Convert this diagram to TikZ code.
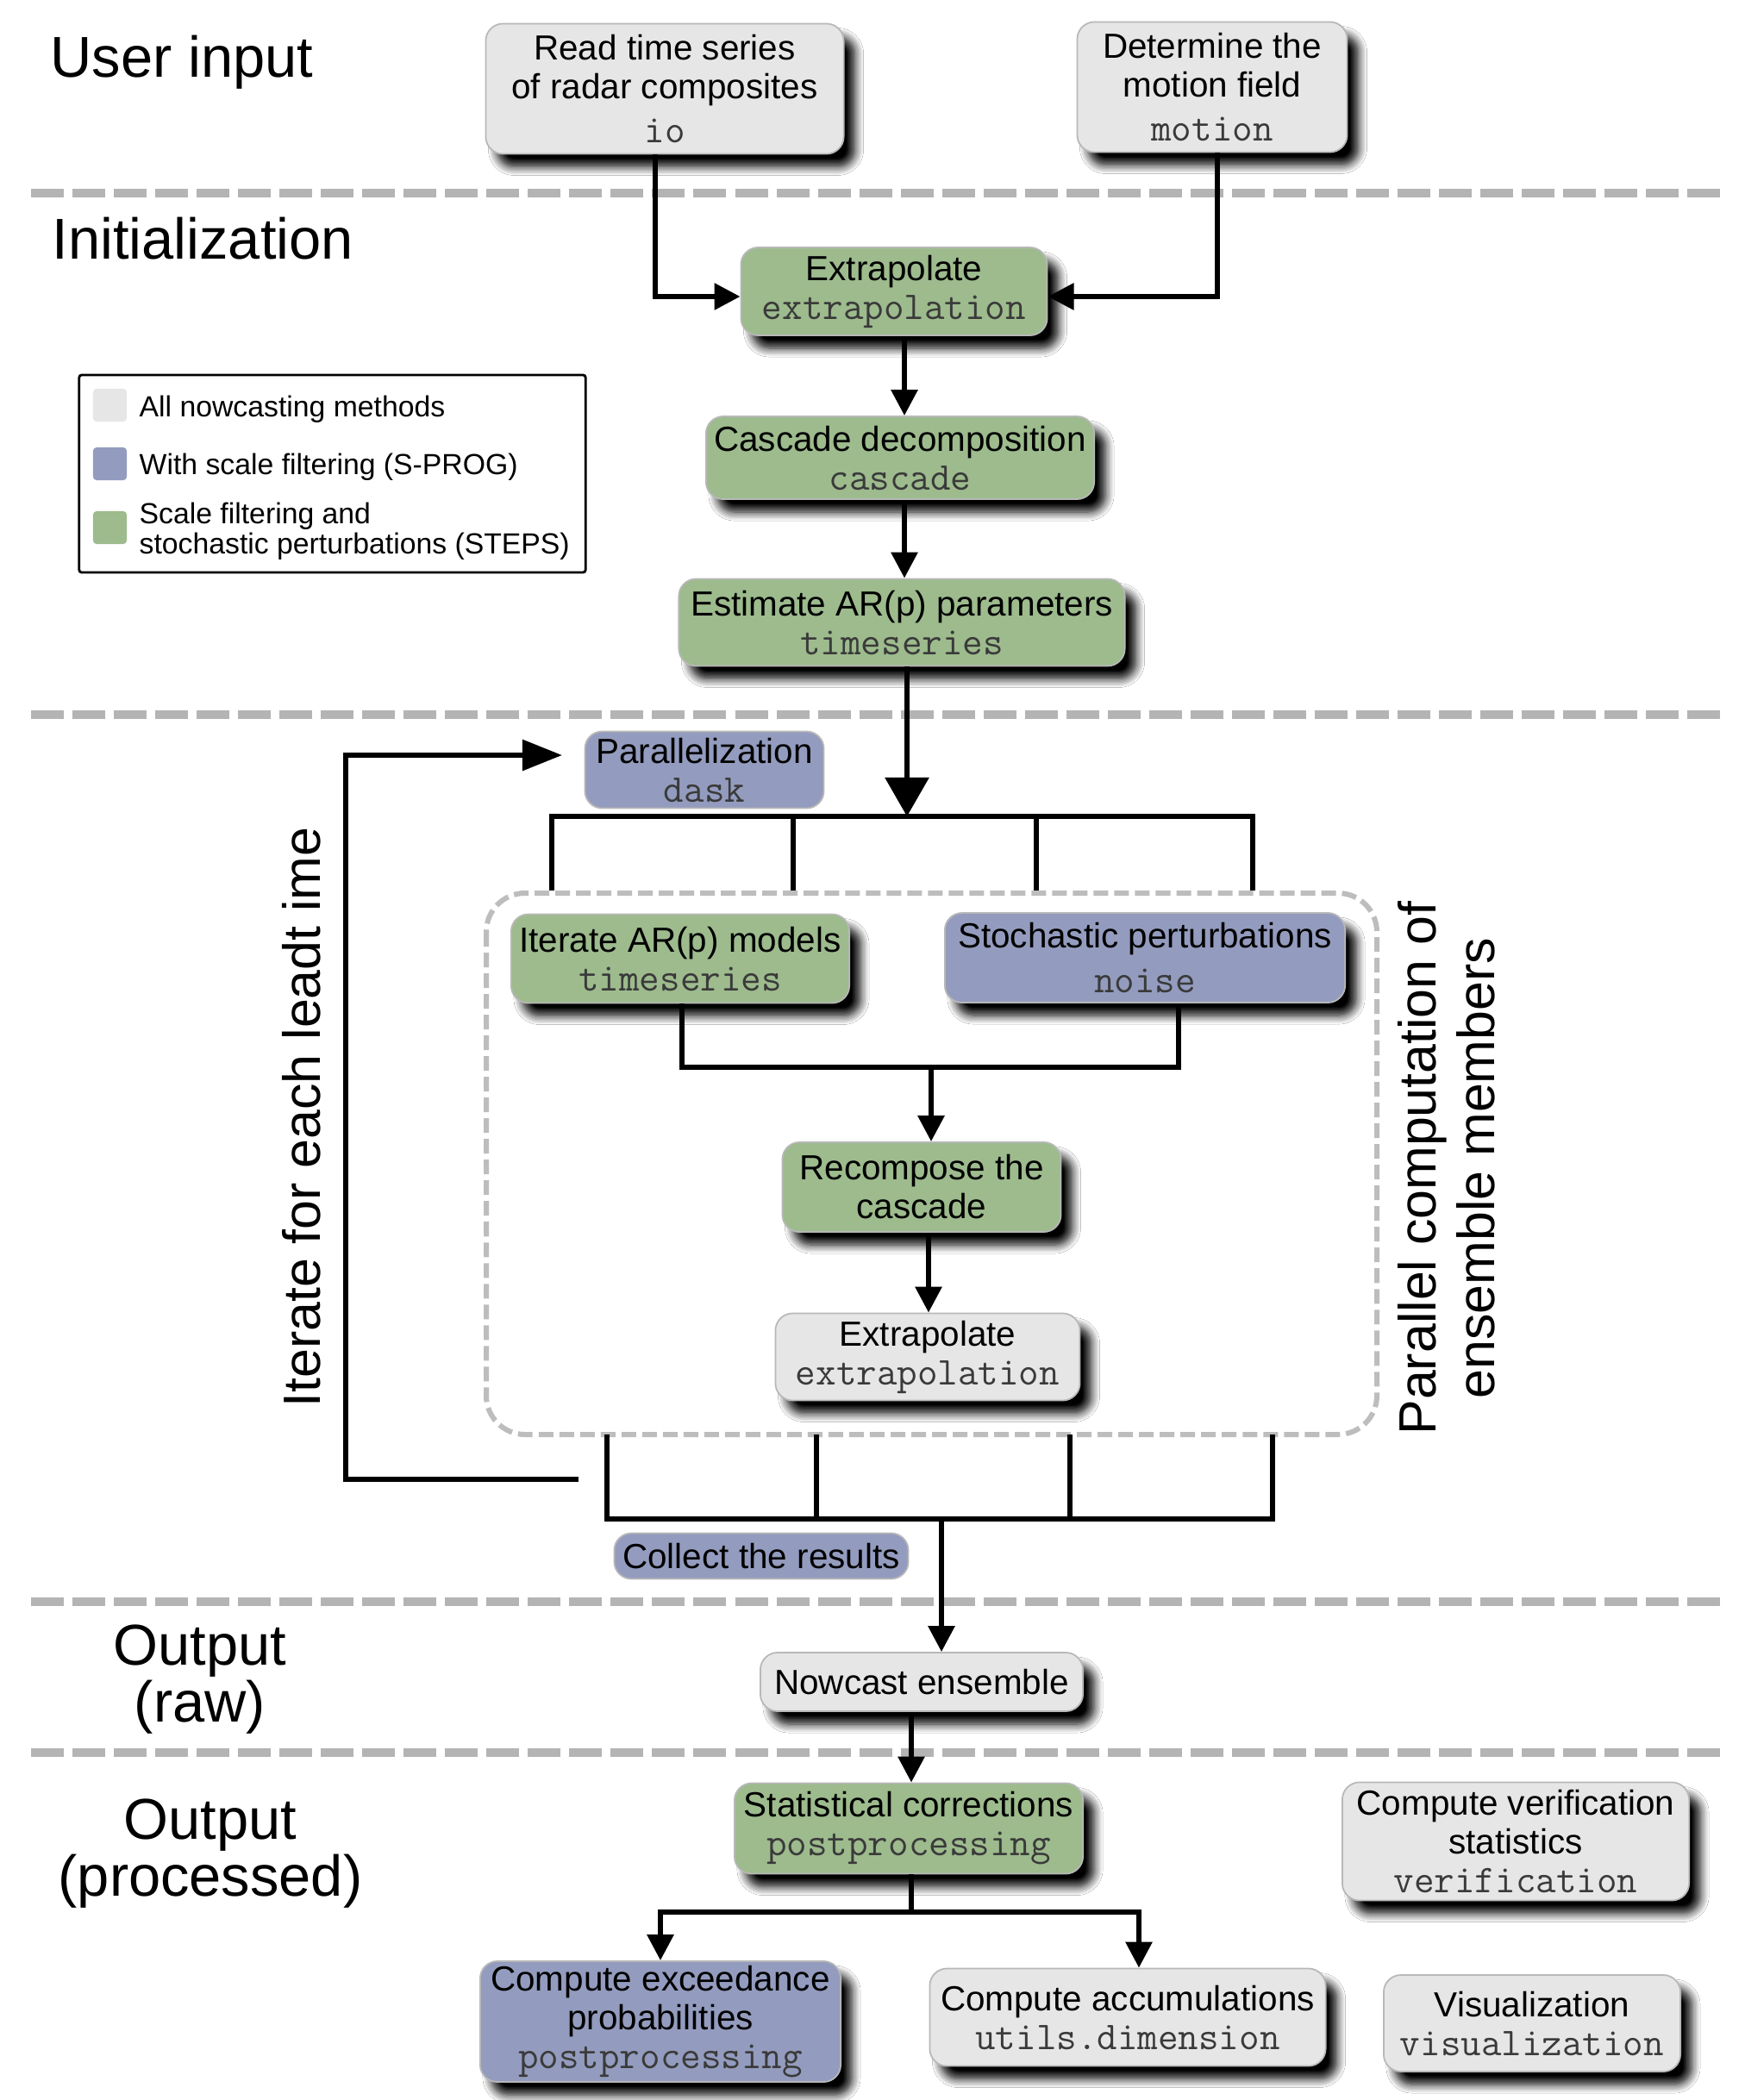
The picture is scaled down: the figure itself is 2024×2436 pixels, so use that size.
\documentclass[tikz,border=0pt]{standalone}
\usepackage{fontspec}
\setmainfont{Liberation Sans}
\usetikzlibrary{arrows.meta,shadows.blur}
\definecolor{gfill}{HTML}{E6E6E6}
\definecolor{grfill}{HTML}{9DBB8D}
\definecolor{blfill}{HTML}{939CBE}
\definecolor{sepcol}{HTML}{B4B4B4}
\definecolor{boxdash}{HTML}{BDBDBD}
\definecolor{monocol}{HTML}{3A3A3A}
\newcommand{\mono}[1]{{\fontsize{13}{13}\selectfont\ttfamily\color{monocol}#1}}
\tikzset{
  nd/.style={draw=black!28, line width=0.5pt, rounded corners=0.2cm, align=center, inner sep=0pt, font=\fontsize{11.5}{12.8}\selectfont},
  shd/.style={blur shadow={shadow xshift=0.13cm, shadow yshift=-0.15cm, shadow blur radius=0.1cm, shadow blur steps=8, shadow opacity=100}},
  gbox/.style={nd, shd, fill=gfill},
  grbox/.style={nd, shd, fill=grfill},
  blbox/.style={nd, shd, fill=blfill},
  blflat/.style={nd, fill=blfill},
  conn/.style={line width=1.7pt},
  arr/.style={conn, -{Triangle[length=0.3cm,width=0.3cm]}},
  sep/.style={draw=sepcol, line width=0.1cm, dash pattern=on 0.38cm off 0.1cm},
  sect/.style={font=\fontsize{19}{18.8}\selectfont, inner sep=0pt},
  rot/.style={font=\fontsize{17.3}{19.3}\selectfont, rotate=90, align=center, inner sep=0pt},
  legtxt/.style={font=\fontsize{9.6}{8.6}\selectfont, inner sep=0pt, align=left},
  swatch/.style={minimum width=0.39cm, minimum height=0.38cm, inner sep=0pt, rounded corners=0.04cm},
}
\begin{document}
\begin{tikzpicture}[x=0.01cm,y=-0.01cm]
\fill[white] (0,0) rectangle (2024,2436);
\useasboundingbox (0,0) rectangle (2024,2436);

% section separators
\coordinate (sepL1) at (36,224);  \coordinate (sepR1) at (2004,224);
\coordinate (sepL2) at (36,829);  \coordinate (sepR2) at (2004,829);
\coordinate (sepL3) at (36,1858); \coordinate (sepR3) at (2004,1858);
\coordinate (sepL4) at (36,2033); \coordinate (sepR4) at (2004,2033);
\draw[sep] (sepL1) -- (sepR1);
\draw[sep] (sepL2) -- (sepR2);
\draw[sep] (sepL3) -- (sepR3);
\draw[sep] (sepL4) -- (sepR4);

% section labels
\node[sect, anchor=base west] (secUI) at (58,90) {User input};
\node[sect, anchor=base west] (secIN) at (60,300) {Initialization};
\node[sect, align=center] (secOR) at (232,1948) {Output\\(raw)};
\node[sect, align=center] (secOP) at (244,2150) {Output\\(processed)};
\node[rot] (secIT) at (350,1296) {Iterate for each leadt ime};
\node[rot] (secPC) at (1678,1355) {Parallel computation of\\ensemble members};

% legend
\node[draw=black, line width=0.8pt, rounded corners=0.03cm, minimum width=5.87cm, minimum height=2.29cm, inner sep=0pt] (legend) at (385.5,549.5) {};
\node[swatch, fill=gfill] (swA) at (127.5,470) {};
\node[swatch, fill=blfill] (swB) at (127.5,538) {};
\node[swatch, fill=grfill] (swC) at (127.5,612) {};
\node[legtxt, anchor=base west] (lgA) at (161,483) {All nowcasting methods};
\node[legtxt, anchor=base west] (lgB) at (161,550) {With scale filtering (S-PROG)};
\node[legtxt, anchor=west] (lgC) at (161,616) {Scale filtering and\\stochastic perturbations (STEPS)};

% dashed ensemble box
\draw[draw=boxdash, line width=0.06cm, dash pattern=on 0.17cm off 0.07cm, rounded corners=0.45cm] (564,1036) rectangle (1597,1664);

% boxes
\node[gbox, minimum width=4.15cm, minimum height=1.51cm] (io) at (771,103) {Read time series\\of radar composites\\[1.5pt]\mono{io}};
\node[gbox, minimum width=3.13cm, minimum height=1.51cm] (mot) at (1406,101) {Determine the\\motion field\\[1.5pt]\mono{motion}};
\node[grbox, minimum width=3.55cm, minimum height=1.02cm] (ext1) at (1037,338) {Extrapolate\\\mono{extrapolation}};
\node[grbox, minimum width=4.50cm, minimum height=0.96cm] (casc) at (1044,531) {Cascade decomposition\\\mono{cascade}};
\node[grbox, minimum width=5.17cm, minimum height=1.01cm] (arp) at (1046,722) {Estimate AR(p) parameters\\\mono{timeseries}};
\node[blflat, minimum width=2.77cm, minimum height=0.89cm] (par) at (817,893) {Parallelization\\\mono{dask}};
\node[grbox, minimum width=3.92cm, minimum height=1.03cm] (iter) at (789,1112) {Iterate AR(p) models\\\mono{timeseries}};
\node[blbox, minimum width=4.64cm, minimum height=1.04cm] (stoch) at (1328,1111) {Stochastic perturbations\\[2pt]\mono{noise}};
\node[grbox, minimum width=3.23cm, minimum height=1.04cm] (reco) at (1069,1377) {Recompose the\\cascade};
\node[gbox, minimum width=3.53cm, minimum height=1.01cm] (ext2) at (1076,1574) {Extrapolate\\\mono{extrapolation}};
\node[blflat, minimum width=3.41cm, minimum height=0.53cm] (coll) at (883,1805) {Collect the results};
\node[gbox, minimum width=3.74cm, minimum height=0.68cm] (now) at (1069,1951) {Nowcast ensemble};
\node[grbox, minimum width=4.04cm, minimum height=1.05cm] (stat) at (1054,2121) {Statistical corrections\\\mono{postprocessing}};
\node[blbox, minimum width=4.18cm, minimum height=1.40cm] (exc) at (766,2345) {Compute exceedance\\probabilities\\\mono{postprocessing}};
\node[gbox, minimum width=4.59cm, minimum height=1.13cm] (acc) at (1308,2340) {Compute accumulations\\\mono{utils.dimension}};
\node[gbox, minimum width=4.02cm, minimum height=1.37cm] (ver) at (1758,2136) {Compute verification\\statistics\\\mono{verification}};
\node[gbox, minimum width=3.44cm, minimum height=1.12cm] (vis) at (1777,2347) {Visualization\\\mono{visualization}};

% connectors: user input -> extrapolate
\coordinate (iox) at (760,0);
\coordinate (motx) at (1412,0);
\coordinate (ioy) at (0,344);
\draw[arr] (io.south -| iox) |- (ext1.west |- ioy);
\draw[arr] (mot.south -| motx) |- (ext1.east |- ioy);

% spine
\coordinate (spx) at (1049,0);
\draw[arr] (ext1.south -| spx) -- (casc.north -| spx);
\draw[arr] (casc.south -| spx) -- (arp.north -| spx);
\coordinate (split) at (1052,947);
\draw[conn, -{Triangle[length=0.45cm,width=0.5cm]}] (arp.south -| split) -- (split);

% distribution bar
\coordinate (b1) at (640,947);  \coordinate (b1d) at (640,1033);
\coordinate (b2) at (920,947);  \coordinate (b2d) at (920,1033);
\coordinate (b3) at (1202,947); \coordinate (b3d) at (1202,1033);
\coordinate (b4) at (1453,947); \coordinate (b4d) at (1453,1033);
\draw[conn] (b1d) -- (b1) -- (b4) -- (b4d);
\draw[conn] (b2) -- (b2d);
\draw[conn] (b3) -- (b3d);

% join of iterate / stochastic
\coordinate (jl) at (791,1238);
\coordinate (jr) at (1367,1238);
\coordinate (jm) at (1080,1238);
\draw[conn] (iter.south -| jl) -- (jl) -- (jr) -- (stoch.south -| jr);
\draw[arr] (jm) -- (reco.north -| jm);
\coordinate (rx) at (1077,0);
\draw[arr] (reco.south -| rx) -- (ext2.north -| rx);

% collection bar
\coordinate (c1) at (704,1762);  \coordinate (c1u) at (704,1664);
\coordinate (c2) at (947,1762);  \coordinate (c2u) at (947,1664);
\coordinate (c3) at (1241,1762); \coordinate (c3u) at (1241,1664);
\coordinate (c4) at (1476,1762); \coordinate (c4u) at (1476,1664);
\draw[conn] (c1u) -- (c1) -- (c4) -- (c4u);
\draw[conn] (c2u) -- (c2);
\draw[conn] (c3u) -- (c3);
\coordinate (cm) at (1092,1762);
\draw[arr] (cm) -- (now.north -| cm);

% loop
\coordinate (la) at (671,1716);
\coordinate (lb) at (401,876);
\coordinate (lc) at (652,876);
\draw[conn, -{Triangle[length=0.46cm,width=0.35cm]}] (la) -| (lb) -- (lc);

% output
\coordinate (nx) at (1057,0);
\draw[arr] (now.south -| nx) -- (stat.north -| nx);
\coordinate (sy) at (1057,2218);
\coordinate (sl) at (766,2218);
\coordinate (sr) at (1321,2218);
\draw[conn] (stat.south -| sy) -- (sy);
\draw[arr] (sy) -- (sl) -- (exc.north -| sl);
\draw[arr] (sy) -- (sr) -- (acc.north -| sr);
\end{tikzpicture}
\end{document}
